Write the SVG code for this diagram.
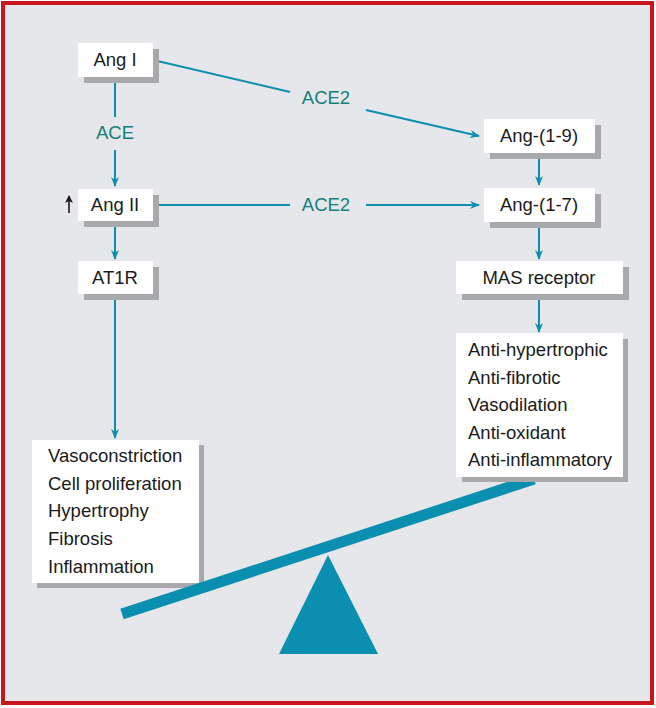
<svg xmlns="http://www.w3.org/2000/svg" width="656" height="708" viewBox="0 0 656 708">
<defs>
<marker id="ah" markerWidth="10" markerHeight="10" refX="9" refY="5" orient="auto" markerUnits="userSpaceOnUse">
<path d="M0,1 L10,5 L0,9 L3,5 Z" fill="#0a8fb0"/>
</marker>
<marker id="ahb" markerWidth="8" markerHeight="10" refX="7" refY="4" orient="auto" markerUnits="userSpaceOnUse">
<path d="M0,0 L8,4 L0,8 L2,4 Z" fill="#1a1a1a"/>
</marker>
</defs>
<style>
.box{fill:#ffffff}
.sh{fill:#a7a9ac}
.t{font-family:"Liberation Sans",Arial,sans-serif;font-size:18.5px;fill:#1a1a1a}
.m{text-anchor:middle}
.lbl{font-family:"Liberation Sans",Arial,sans-serif;font-size:18.5px;fill:#127f7c;text-anchor:middle}
.c{stroke:#0a8fb0;stroke-width:2;fill:none}
</style>
<rect x="3" y="3" width="649" height="700" fill="#e6e7ea" stroke="#c8161d" stroke-width="4"/>

<g id="connectors">
<line class="c" x1="115" y1="77" x2="115" y2="117"/>
<line class="c" x1="115" y1="150" x2="115" y2="186" marker-end="url(#ah)"/>
<line class="c" x1="115" y1="221" x2="115" y2="259" marker-end="url(#ah)"/>
<line class="c" x1="115" y1="294" x2="115" y2="438" marker-end="url(#ah)"/>
<line class="c" x1="153" y1="60" x2="290" y2="92"/>
<line class="c" x1="366" y1="110" x2="479" y2="136" marker-end="url(#ah)"/>
<line class="c" x1="153" y1="205" x2="290" y2="205"/>
<line class="c" x1="366" y1="205" x2="479" y2="205" marker-end="url(#ah)"/>
<line class="c" x1="539" y1="153" x2="539" y2="185" marker-end="url(#ah)"/>
<line class="c" x1="539" y1="222" x2="539" y2="259" marker-end="url(#ah)"/>
<line class="c" x1="539" y1="294" x2="539" y2="332" marker-end="url(#ah)"/>
<text class="lbl" x="115" y="139">ACE</text>
<text class="lbl" x="326" y="104">ACE2</text>
<text class="lbl" x="326" y="211">ACE2</text>
<line x1="69" y1="213" x2="69" y2="196" stroke="#1a1a1a" stroke-width="1.6" marker-end="url(#ahb)"/>
</g>

<g id="angI">
<rect class="sh" x="84" y="49" width="75" height="34"/>
<rect class="box" x="78" y="43" width="75" height="34"/>
<text class="t m" x="115" y="66">Ang I</text>
</g>
<g id="angII">
<rect class="sh" x="84" y="195" width="75" height="32"/>
<rect class="box" x="78" y="189" width="75" height="32"/>
<text class="t m" x="115" y="211">Ang II</text>
</g>
<g id="at1r">
<rect class="sh" x="84" y="267" width="75" height="33"/>
<rect class="box" x="78" y="261" width="75" height="33"/>
<text class="t m" x="115" y="284">AT1R</text>
</g>
<g id="ang19">
<rect class="sh" x="490" y="125" width="111" height="34"/>
<rect class="box" x="484" y="119" width="111" height="34"/>
<text class="t m" x="539" y="142">Ang-(1-9)</text>
</g>
<g id="ang17">
<rect class="sh" x="490" y="194" width="111" height="34"/>
<rect class="box" x="484" y="188" width="111" height="34"/>
<text class="t m" x="539" y="211">Ang-(1-7)</text>
</g>
<g id="mas">
<rect class="sh" x="462" y="267" width="167" height="33"/>
<rect class="box" x="456" y="261" width="167" height="33"/>
<text class="t m" x="539" y="284">MAS receptor</text>
</g>
<g id="effectsLeft">
<rect class="sh" x="37" y="445" width="167" height="143"/>
<rect class="box" x="32" y="440" width="167" height="143"/>
<text class="t" x="48" y="462">Vasoconstriction</text>
<text class="t" x="48" y="490">Cell proliferation</text>
<text class="t" x="48" y="517">Hypertrophy</text>
<text class="t" x="48" y="545">Fibrosis</text>
<text class="t" x="48" y="573">Inflammation</text>
</g>
<g id="balance">
<line x1="122" y1="614" x2="534" y2="479" stroke="#0a8fb0" stroke-width="11"/>
<polygon points="328,555 279,654 378,654" fill="#0a8fb0"/>
</g>
<g id="effectsRight">
<rect class="sh" x="462" y="339" width="166" height="143"/>
<rect class="box" x="456" y="333" width="167" height="144"/>
<text class="t" x="468" y="356">Anti-hypertrophic</text>
<text class="t" x="468" y="384">Anti-fibrotic</text>
<text class="t" x="468" y="411">Vasodilation</text>
<text class="t" x="468" y="439">Anti-oxidant</text>
<text class="t" x="468" y="466">Anti-inflammatory</text>
</g>
</svg>
